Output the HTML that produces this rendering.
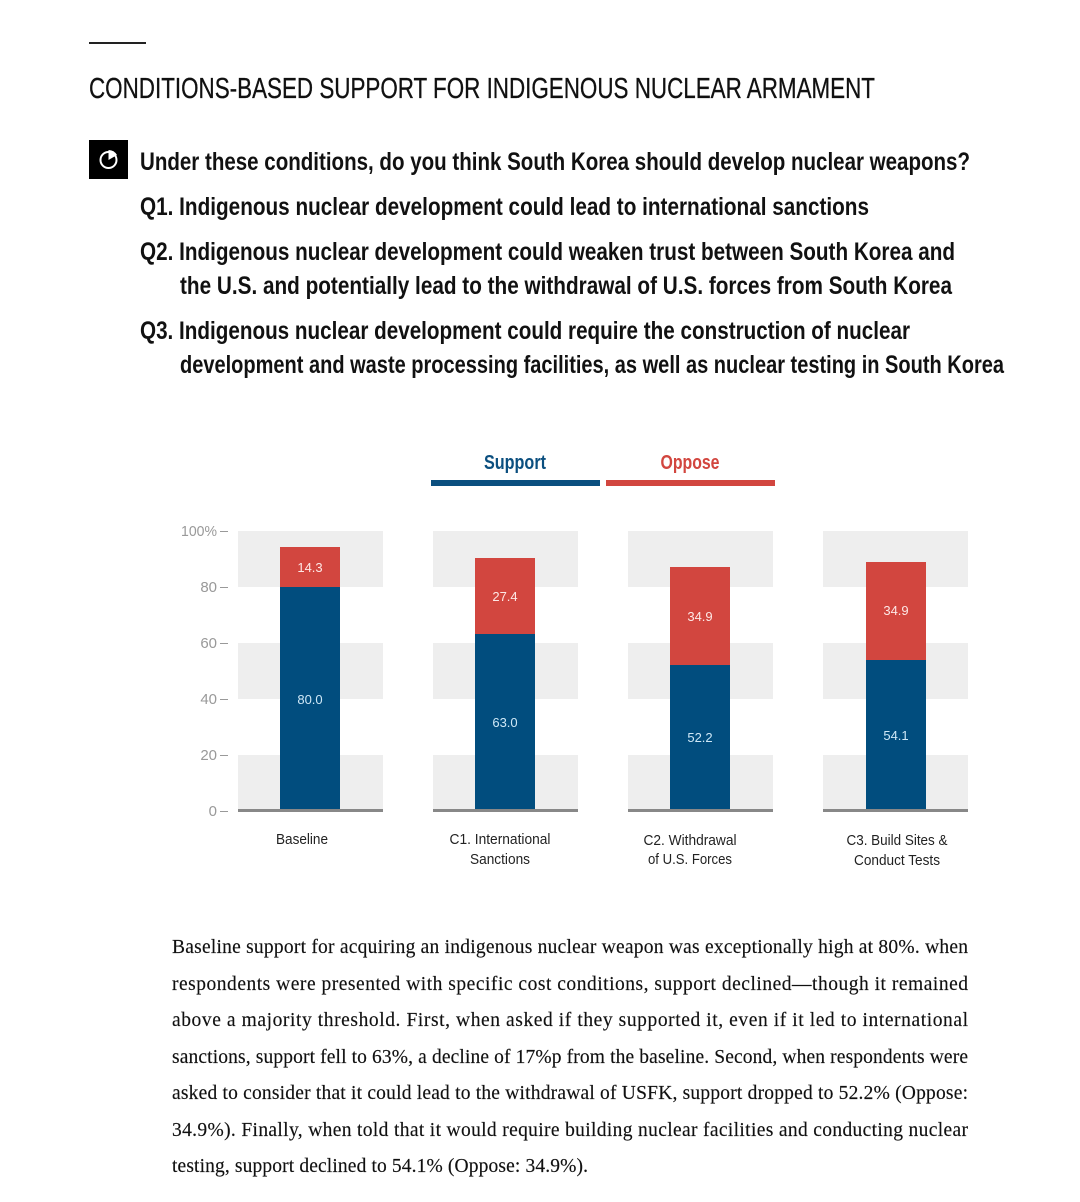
<!DOCTYPE html>
<html><head><meta charset="utf-8"><style>html,body{margin:0;padding:0;background:#fff}svg{display:block}</style></head><body>
<svg width="1080" height="1202" xmlns="http://www.w3.org/2000/svg">
<rect x="89" y="42" width="57" height="2" fill="#222"/>
<g font-family="'Liberation Sans Narrow','Liberation Sans',sans-serif" fill="#111">
<text x="89" y="98" font-size="29" textLength="786" lengthAdjust="spacingAndGlyphs" stroke="#111" stroke-width="0.3">CONDITIONS-BASED SUPPORT FOR INDIGENOUS NUCLEAR ARMAMENT</text>
<g font-weight="bold" font-size="25">
<text x="140" y="170" textLength="830" lengthAdjust="spacingAndGlyphs">Under these conditions, do you think South Korea should develop nuclear weapons?</text>
<text x="140" y="215" textLength="729" lengthAdjust="spacingAndGlyphs">Q1. Indigenous nuclear development could lead to international sanctions</text>
<text x="140" y="260" textLength="815" lengthAdjust="spacingAndGlyphs">Q2. Indigenous nuclear development could weaken trust between South Korea and</text>
<text x="180" y="294" textLength="772" lengthAdjust="spacingAndGlyphs">the U.S. and potentially lead to the withdrawal of U.S. forces from South Korea</text>
<text x="140" y="339" textLength="770" lengthAdjust="spacingAndGlyphs">Q3. Indigenous nuclear development could require the construction of nuclear</text>
<text x="180" y="373" textLength="824" lengthAdjust="spacingAndGlyphs">development and waste processing facilities, as well as nuclear testing in South Korea</text>
</g>
</g>
<rect x="89" y="140" width="39" height="39" fill="#000"/>
<circle cx="108.5" cy="160" r="8" fill="none" stroke="#fff" stroke-width="2"/>
<path d="M108.5 160 L108.5 150 A10 10 0 0 1 117 155 Z" fill="#fff"/>
<g font-family="'Liberation Sans Narrow','Liberation Sans',sans-serif" font-weight="bold" font-size="20" text-anchor="middle" lengthAdjust="spacingAndGlyphs">
<text x="515" y="469" fill="#0b4f7f" textLength="62" lengthAdjust="spacingAndGlyphs">Support</text>
<text x="690" y="469" fill="#d2463f" textLength="59" lengthAdjust="spacingAndGlyphs">Oppose</text>
</g>
<rect x="431" y="480" width="169" height="6" fill="#0b4f7f"/>
<rect x="606" y="480" width="169" height="6" fill="#d2463f"/>
<g fill="#eeeeee">
<rect x="238" y="531" width="145" height="56"/><rect x="238" y="643" width="145" height="56"/><rect x="238" y="755" width="145" height="56"/>
<rect x="433" y="531" width="145" height="56"/><rect x="433" y="643" width="145" height="56"/><rect x="433" y="755" width="145" height="56"/>
<rect x="628" y="531" width="145" height="56"/><rect x="628" y="643" width="145" height="56"/><rect x="628" y="755" width="145" height="56"/>
<rect x="823" y="531" width="145" height="56"/><rect x="823" y="643" width="145" height="56"/><rect x="823" y="755" width="145" height="56"/>
</g>
<g fill="#d2463f"><rect x="280" y="547" width="60" height="41"/><rect x="475" y="558" width="60" height="77"/><rect x="670" y="567" width="60" height="98"/><rect x="866" y="562" width="60" height="98"/></g>
<g fill="#014d7e"><rect x="280" y="587" width="60" height="224"/><rect x="475" y="634" width="60" height="177"/><rect x="670" y="665" width="60" height="146"/><rect x="866" y="660" width="60" height="151"/></g>
<g fill="#888"><rect x="238" y="809" width="145" height="3"/><rect x="433" y="809" width="145" height="3"/><rect x="628" y="809" width="145" height="3"/><rect x="823" y="809" width="145" height="3"/></g>
<g font-family="'Liberation Sans Narrow','Liberation Sans',sans-serif" font-size="13" text-anchor="middle">
<g fill="#fde8e6"><text x="310" y="572">14.3</text><text x="505" y="601">27.4</text><text x="700" y="621">34.9</text><text x="896" y="615">34.9</text></g>
<g fill="#cfe8f7"><text x="310" y="704">80.0</text><text x="505" y="727">63.0</text><text x="700" y="742">52.2</text><text x="896" y="740">54.1</text></g>
</g>
<g font-family="'Liberation Sans Narrow','Liberation Sans',sans-serif" font-size="15" fill="#999" text-anchor="end">
<text x="217" y="536" textLength="36" lengthAdjust="spacingAndGlyphs">100%</text><text x="217" y="592">80</text><text x="217" y="648">60</text><text x="217" y="704">40</text><text x="217" y="760">20</text><text x="217" y="816">0</text>
</g>
<g fill="#999"><rect x="220" y="531" width="8" height="1"/><rect x="220" y="587" width="8" height="1"/><rect x="220" y="643" width="8" height="1"/><rect x="220" y="699" width="8" height="1"/><rect x="220" y="755" width="8" height="1"/><rect x="220" y="811" width="8" height="1"/></g>
<g font-family="'Liberation Sans Narrow','Liberation Sans',sans-serif" font-size="15" fill="#222" text-anchor="middle">
<text x="302" y="844" textLength="52" lengthAdjust="spacingAndGlyphs">Baseline</text>
<text x="500" y="844" textLength="101" lengthAdjust="spacingAndGlyphs">C1. International</text><text x="500" y="864" textLength="60" lengthAdjust="spacingAndGlyphs">Sanctions</text>
<text x="690" y="845" textLength="93" lengthAdjust="spacingAndGlyphs">C2. Withdrawal</text><text x="690" y="864" textLength="84" lengthAdjust="spacingAndGlyphs">of U.S. Forces</text>
<text x="897" y="845" textLength="101" lengthAdjust="spacingAndGlyphs">C3. Build Sites &amp;</text><text x="897" y="865" textLength="86" lengthAdjust="spacingAndGlyphs">Conduct Tests</text>
</g>
<g font-family="'Liberation Serif',serif" font-size="19.5" fill="#111" stroke="#111" stroke-width="0.15">
<text x="172" y="953" textLength="796" lengthAdjust="spacing">Baseline support for acquiring an indigenous nuclear weapon was exceptionally high at 80%. when</text>
<text x="172" y="990" textLength="796" lengthAdjust="spacing">respondents were presented with specific cost conditions, support declined—though it remained</text>
<text x="172" y="1026" textLength="796" lengthAdjust="spacing">above a majority threshold. First, when asked if they supported it, even if it led to international</text>
<text x="172" y="1063" textLength="796" lengthAdjust="spacing">sanctions, support fell to 63%, a decline of 17%p from the baseline. Second, when respondents were</text>
<text x="172" y="1099" textLength="796" lengthAdjust="spacing">asked to consider that it could lead to the withdrawal of USFK, support dropped to 52.2% (Oppose:</text>
<text x="172" y="1136" textLength="796" lengthAdjust="spacing">34.9%). Finally, when told that it would require building nuclear facilities and conducting nuclear</text>
<text x="172" y="1172" textLength="416" lengthAdjust="spacing">testing, support declined to 54.1% (Oppose: 34.9%).</text>
</g>
</svg>
</body></html>
